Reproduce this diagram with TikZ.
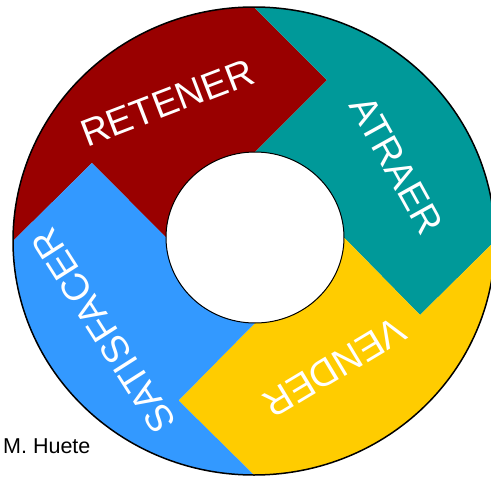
\documentclass[tikz,border=0pt]{standalone}
\usepackage{fontspec}
\setmainfont{Liberation Sans}
\definecolor{cred}{RGB}{153,0,0}
\definecolor{cteal}{RGB}{0,153,153}
\definecolor{cyel}{RGB}{255,204,0}
\definecolor{cblue}{RGB}{51,153,255}
\tikzset{
  lbl/.style={text=white, font=\fontsize{38}{38}\selectfont, inner sep=0pt, text height=27.2pt, text depth=0pt, anchor=center},
  ring/.style={draw=black}
}
\begin{document}
\begin{tikzpicture}[x=1pt,y=-1pt]
\clip (0,0) rectangle (491,477);
\fill[white] (0,0) rectangle (491,477);
% outer quadrant points (centre 254,241; radii 241 x 234)
\coordinate (OT) at (254,7);
\coordinate (OR) at (495,241);
\coordinate (OB) at (254,475);
\coordinate (OL) at (13,241);
% inner quadrant points (centre 255,237.5; radii 89 x 85.5)
\coordinate (IT) at (255,152);
\coordinate (IR) at (344,237.5);
\coordinate (IB) at (255,323);
\coordinate (IL) at (166,237.5);
% arrow tips
\coordinate (TR) at (327,80);
\coordinate (TT) at (420,315);
\coordinate (TY) at (178.5,400.5);
\coordinate (TB) at (92,163);
% segments
\fill[cred] (OL) arc[start angle=180,end angle=270,x radius=241,y radius=234] -- (TR) -- (IT) arc[start angle=270,end angle=180,x radius=89,y radius=85.5] -- (TB) -- cycle;
\fill[cteal] (OT) arc[start angle=270,end angle=360,x radius=241,y radius=234] -- (TT) -- (IR) arc[start angle=360,end angle=270,x radius=89,y radius=85.5] -- (TR) -- cycle;
\fill[cyel] (OR) arc[start angle=0,end angle=90,x radius=241,y radius=234] -- (TY) -- (IB) arc[start angle=90,end angle=0,x radius=89,y radius=85.5] -- (TT) -- cycle;
\fill[cblue] (OB) arc[start angle=90,end angle=180,x radius=241,y radius=234] -- (TB) -- (IL) arc[start angle=180,end angle=90,x radius=89,y radius=85.5] -- (TY) -- cycle;
% outlines
\draw[ring, line width=1.5pt] (254,241) ellipse[x radius=241,y radius=234];
\draw[ring, line width=1pt] (255,237.5) ellipse[x radius=89,y radius=85.5];
% labels
\node[lbl, rotate=21] (retener) at (167,102) {RETENER};
\node[lbl, rotate=-61] (atraer) at (397,165) {ATRAER};
\node[lbl, rotate=211] (vender) at (335,368) {VENDER};
\node[lbl, rotate=122.5] (satisfacer) at (103,331) {SATISFACER};
\node[anchor=base west, inner sep=0pt, font=\fontsize{21.5}{21.5}\selectfont] (autor) at (3,453) {M. Huete};
\end{tikzpicture}
\end{document}
